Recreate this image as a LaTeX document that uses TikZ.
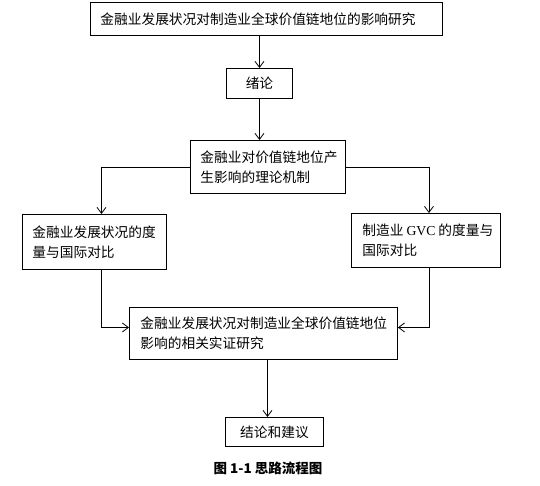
\documentclass[tikz,border=0pt]{standalone}
\usepackage{fontspec}
\setmainfont{Liberation Serif}
\newfontfamily\cjk{Noto Sans CJK SC}
\usetikzlibrary{ arrows.meta, calc, positioning }
\tikzset{
>={Straight Barb[length=6pt,width=9pt]}, % open arrow heads
x=1pt, y=-1pt, % work in pixels of the page, y going down
every node/.style={inner sep=0pt},
stepbox/.style={draw, line width=0.9pt, anchor=north west, align=left,
  inner xsep=10pt, font=\cjk\fontsize{13.7}{20}\selectfont}, % boxes of the flow
link/.style={line width=0.8pt}, % connectors
}

\begin{document}
\begin{tikzpicture}
  \useasboundingbox (0,0) rectangle (540,486);
  \node[stepbox, text width=332pt, minimum height=33pt] (title) at (90,2)
    {金融业发展状况对制造业全球价值链地位的影响研究};
  \node[stepbox, text width=46pt, minimum height=30pt, align=center] (intro) at (226,68)
    {绪论};
  \node[stepbox, text width=135pt, minimum height=53pt] (theory) at (190,140)
    {金融业对价值链地位产\\生影响的理论机制};
  \node[stepbox, text width=124pt, minimum height=55pt] (finance) at (22,214)
    {金融业发展状况的度\\量与国际对比};
  \node[stepbox, text width=127pt, minimum height=54pt, inner xsep=11pt] (gvc) at (351,213)
    {\mbox{制造业\hspace{3pt}{\rmfamily GVC}\hspace{3pt}的度量与}\\国际对比};
  \node[stepbox, text width=246pt, minimum height=52pt, inner xsep=11pt] (empir) at (129,307)
    {金融业发展状况对制造业全球价值链地位\\影响的相关实证研究};
  \node[stepbox, text width=78pt, minimum height=29pt, align=center] (concl) at (225,417)
    {结论和建议};
  \node[font=\cjk\bfseries\fontsize{13.5}{16}\selectfont] (caption) at (268,468)
    {图 1-1 思路流程图};

  \draw[link,->] (intro |- title.south) -- (intro);
  \draw[link,->] (intro) -- (intro |- theory.north);
  \draw[link,->] (theory.west) -| ([xshift=7pt]finance.north);
  \draw[link,->] (theory.east) -| ([xshift=3pt]gvc.north);
  \draw[link,->] ([xshift=7pt]finance.south) |- ([yshift=6pt]empir.west);
  \draw[link,->] ([xshift=3pt]gvc.south) |- ([yshift=6pt]empir.east);
  \draw[link,->] ([xshift=4pt]empir.south) -- ([xshift=4pt]empir.south |- concl.north);
\end{tikzpicture}
\end{document}
